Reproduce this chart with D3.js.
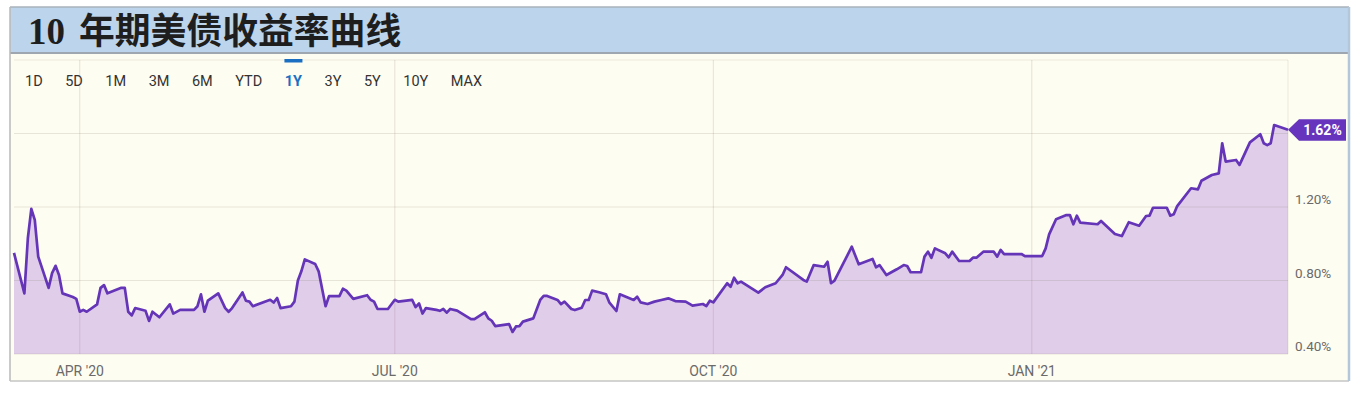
<!DOCTYPE html>
<html lang="zh">
<head>
<meta charset="UTF-8">
<title>10 年期美债收益率曲线</title>
<script src="https://cdnjs.cloudflare.com/ajax/libs/d3/7.8.5/d3.min.js"></script>
<style>
  body { margin: 0; background: #fff; }
  svg { display: block; font-family: Roboto, "Noto Sans", sans-serif; }
</style>
</head>
<body>
<div id="chart"></div>
<script>
// chart data
const titleNum = "10";
const titleText = "年期美债收益率曲线";
const ranges = ["1D", "5D", "1M", "3M", "6M", "YTD", "1Y", "3Y", "5Y", "10Y", "MAX"];
const activeRange = "1Y";
const yTicks = [0.4, 0.8, 1.2, 1.6];
const lastLabel = "1.62%";

const dates = [
  "2020-03-13","2020-03-16","2020-03-17","2020-03-18","2020-03-19","2020-03-20","2020-03-23","2020-03-24","2020-03-25","2020-03-26",
  "2020-03-27","2020-03-30","2020-03-31","2020-04-01","2020-04-02","2020-04-03","2020-04-06","2020-04-07","2020-04-08","2020-04-09",
  "2020-04-13","2020-04-14","2020-04-15","2020-04-16","2020-04-17","2020-04-20","2020-04-21","2020-04-22","2020-04-24","2020-04-27",
  "2020-04-28","2020-04-30","2020-05-04","2020-05-05","2020-05-06","2020-05-07","2020-05-08","2020-05-11","2020-05-13","2020-05-14",
  "2020-05-15","2020-05-18","2020-05-19","2020-05-20","2020-05-21","2020-05-26","2020-05-27","2020-05-28","2020-05-29","2020-06-01",
  "2020-06-02","2020-06-03","2020-06-04","2020-06-05","2020-06-08","2020-06-09","2020-06-11","2020-06-12","2020-06-15","2020-06-16",
  "2020-06-17","2020-06-19","2020-06-23","2020-06-24","2020-06-25","2020-06-26","2020-06-29","2020-07-01","2020-07-02","2020-07-06",
  "2020-07-07","2020-07-08","2020-07-09","2020-07-10","2020-07-13","2020-07-14","2020-07-15","2020-07-16","2020-07-17","2020-07-19",
  "2020-07-23","2020-07-24","2020-07-27","2020-07-28","2020-07-29","2020-07-30","2020-08-03","2020-08-04","2020-08-05","2020-08-06",
  "2020-08-07","2020-08-10","2020-08-12","2020-08-13","2020-08-14","2020-08-17","2020-08-18","2020-08-19","2020-08-21","2020-08-22",
  "2020-08-24","2020-08-25","2020-08-26","2020-08-27","2020-08-29","2020-08-31","2020-09-01","2020-09-03","2020-09-04","2020-09-08",
  "2020-09-09","2020-09-10","2020-09-12","2020-09-14","2020-09-16","2020-09-18","2020-09-20","2020-09-23","2020-09-25","2020-09-28",
  "2020-09-29","2020-09-30","2020-10-01","2020-10-05","2020-10-06","2020-10-07","2020-10-08","2020-10-09","2020-10-14","2020-10-16",
  "2020-10-19","2020-10-21","2020-10-22","2020-10-27","2020-10-28","2020-10-30","2020-11-02","2020-11-03","2020-11-04","2020-11-05",
  "2020-11-10","2020-11-12","2020-11-16","2020-11-17","2020-11-18","2020-11-20","2020-11-23","2020-11-25","2020-11-26","2020-11-27",
  "2020-11-30","2020-12-01","2020-12-02","2020-12-03","2020-12-04","2020-12-07","2020-12-08","2020-12-09","2020-12-11","2020-12-14",
  "2020-12-15","2020-12-16","2020-12-18","2020-12-21","2020-12-22","2020-12-23","2020-12-24","2020-12-29","2020-12-30","2021-01-04",
  "2021-01-05","2021-01-06","2021-01-08","2021-01-11","2021-01-12","2021-01-13","2021-01-14","2021-01-15","2021-01-20","2021-01-21",
  "2021-01-25","2021-01-27","2021-01-29","2021-02-01","2021-02-03","2021-02-04","2021-02-05","2021-02-09","2021-02-10","2021-02-11",
  "2021-02-12","2021-02-16","2021-02-18","2021-02-19","2021-02-22","2021-02-24","2021-02-25","2021-02-26","2021-03-01","2021-03-02",
  "2021-03-05","2021-03-08","2021-03-09","2021-03-10","2021-03-11","2021-03-12","2021-03-16"
];
const yields = [
  0.95, 0.73, 1.03, 1.19, 1.13, 0.93, 0.76, 0.84, 0.88, 0.83,
  0.73, 0.71, 0.70, 0.63, 0.64, 0.63, 0.67, 0.76, 0.775, 0.73,
  0.76, 0.76, 0.63, 0.61, 0.65, 0.635, 0.58, 0.63, 0.60, 0.67,
  0.62, 0.64, 0.64, 0.66, 0.725, 0.63, 0.69, 0.73, 0.65, 0.63,
  0.65, 0.735, 0.69, 0.685, 0.66, 0.695, 0.68, 0.705, 0.65, 0.66,
  0.685, 0.80, 0.85, 0.915, 0.89, 0.85, 0.66, 0.715, 0.715, 0.755,
  0.745, 0.70, 0.72, 0.695, 0.685, 0.645, 0.645, 0.695, 0.685, 0.695,
  0.655, 0.675, 0.62, 0.65, 0.64, 0.635, 0.645, 0.625, 0.645, 0.636,
  0.59, 0.59, 0.627, 0.594, 0.581, 0.552, 0.563, 0.52, 0.55, 0.552,
  0.576, 0.594, 0.694, 0.716, 0.716, 0.694, 0.672, 0.685, 0.645, 0.639,
  0.652, 0.694, 0.694, 0.745, 0.736, 0.725, 0.679, 0.634, 0.725, 0.694,
  0.712, 0.681, 0.672, 0.685, 0.694, 0.703, 0.688, 0.685, 0.663, 0.672,
  0.661, 0.69, 0.681, 0.785, 0.766, 0.815, 0.785, 0.794, 0.734, 0.763,
  0.785, 0.83, 0.872, 0.803, 0.794, 0.884, 0.875, 0.902, 0.785, 0.799,
  0.984, 0.888, 0.917, 0.872, 0.884, 0.83, 0.861, 0.884, 0.879, 0.845,
  0.845, 0.93, 0.957, 0.924, 0.975, 0.948, 0.926, 0.957, 0.906, 0.906,
  0.924, 0.924, 0.957, 0.957, 0.93, 0.966, 0.944, 0.944, 0.933, 0.933,
  0.975, 1.051, 1.133, 1.156, 1.156, 1.106, 1.153, 1.115, 1.106, 1.124,
  1.053, 1.042, 1.117, 1.098, 1.151, 1.153, 1.196, 1.196, 1.153, 1.16,
  1.205, 1.302, 1.296, 1.343, 1.374, 1.383, 1.547, 1.447, 1.456, 1.429,
  1.552, 1.596, 1.547, 1.537, 1.547, 1.646, 1.62
];

const width = 1360, height = 395;
const frame = { left: 10, right: 1349, top: 7, titleBottom: 53, bottom: 381 };
const plot = { left: 14, right: 1288, top: 60, bottom: 354 };

const parse = d3.timeParse("%Y-%m-%d");
const data = dates.map((d, i) => ({ date: parse(d), value: yields[i] }));

const svg = d3.select("#chart").append("svg")
  .attr("width", width)
  .attr("height", height);

// panel + title bar
svg.append("rect")
  .attr("x", frame.left).attr("y", frame.titleBottom)
  .attr("width", frame.right - frame.left).attr("height", frame.bottom - frame.titleBottom)
  .attr("fill", "#fefdf1");
svg.append("rect")
  .attr("x", frame.left).attr("y", frame.top)
  .attr("width", frame.right - frame.left).attr("height", frame.titleBottom - frame.top)
  .attr("fill", "#bdd5ec");
svg.append("line")
  .attr("x1", frame.left).attr("x2", frame.right)
  .attr("y1", frame.top).attr("y2", frame.top)
  .attr("stroke", "#a9b2bb").attr("stroke-width", 1.5);
svg.append("line")
  .attr("x1", frame.left).attr("x2", frame.right)
  .attr("y1", frame.titleBottom).attr("y2", frame.titleBottom)
  .attr("stroke", "#9ea7b0").attr("stroke-width", 2);
svg.append("line")
  .attr("x1", frame.left).attr("x2", frame.left)
  .attr("y1", frame.top).attr("y2", frame.bottom)
  .attr("stroke", "#b9b9b9").attr("stroke-width", 1.5);
svg.append("line")
  .attr("x1", frame.left).attr("x2", frame.right)
  .attr("y1", frame.bottom).attr("y2", frame.bottom)
  .attr("stroke", "#c4c4c4").attr("stroke-width", 1.5);
svg.append("line")
  .attr("x1", frame.right).attr("x2", frame.right)
  .attr("y1", frame.top).attr("y2", frame.bottom)
  .attr("stroke", "#b4c6da").attr("stroke-width", 2.5);

// title
svg.append("text")
  .attr("x", 28).attr("y", 44)
  .attr("font-family", "'Liberation Serif', 'DejaVu Serif', serif")
  .attr("font-weight", "bold")
  .attr("font-size", 37)
  .attr("fill", "#1e1e1e")
  .text(titleNum);
svg.append("text")
  .attr("x", 79).attr("y", 43.5)
  .attr("font-family", "'Noto Sans CJK SC', sans-serif")
  .attr("font-weight", "bold")
  .attr("font-size", 35.8)
  .attr("fill", "#1e1e1e")
  .text(titleText);

// scales
const x = d3.scaleTime()
  .domain([parse("2020-03-13"), parse("2021-03-16")])
  .range([plot.left, plot.right]);
const y = d3.scaleLinear()
  .domain([0.4, 2.0])
  .range([plot.bottom, plot.top]);

// area fill
const area = d3.area()
  .x(d => x(d.date))
  .y0(plot.bottom)
  .y1(d => y(d.value));
svg.append("path")
  .datum(data)
  .attr("d", area)
  .attr("fill", "#e0cdea");

// grid
const xTicks = x.ticks(d3.timeMonth.every(3));
const fmt = d3.timeFormat("%b '%y");
svg.append("g")
  .selectAll("line")
  .data(xTicks)
  .join("line")
  .attr("x1", d => x(d)).attr("x2", d => x(d))
  .attr("y1", plot.top).attr("y2", plot.bottom)
  .attr("stroke", "rgba(140,110,110,0.2)");
svg.append("g")
  .selectAll("line")
  .data(yTicks)
  .join("line")
  .attr("x1", plot.left).attr("x2", plot.right)
  .attr("y1", d => y(d)).attr("y2", d => y(d))
  .attr("stroke", "rgba(130,120,100,0.18)");
// plot frame top/right
svg.append("path")
  .attr("d", `M${plot.left},${plot.top}H${plot.right}V${plot.bottom}`)
  .attr("fill", "none")
  .attr("stroke", "rgba(130,120,100,0.15)");

// line
const line = d3.line()
  .x(d => x(d.date))
  .y(d => y(d.value));
svg.append("path")
  .datum(data)
  .attr("d", line)
  .attr("fill", "none")
  .attr("stroke", "#6535b8")
  .attr("stroke-width", 2.7)
  .attr("stroke-linejoin", "round");

// x labels
svg.append("g")
  .selectAll("text")
  .data(xTicks)
  .join("text")
  .attr("x", d => x(d))
  .attr("y", 376)
  .attr("text-anchor", "middle")
  .attr("font-size", 14)
  .attr("fill", "#6a6a6a")
  .text(d => fmt(d).toUpperCase());

// y labels (top one covered by the last-value badge)
svg.append("g")
  .selectAll("text")
  .data(yTicks.filter(d => d < 1.5))
  .join("text")
  .attr("x", plot.right + 7)
  .attr("y", d => y(d) - 3)
  .attr("font-size", 13.5)
  .attr("fill", "#6a6a6a")
  .text(d => d.toFixed(2) + "%");

// last value badge
const last = data[data.length - 1];
const by = y(last.value);
svg.append("path")
  .attr("d", `M${plot.right},${by}L${plot.right + 11},${by - 10.5}H${plot.right + 58}V${by + 11}H${plot.right + 11}Z`)
  .attr("fill", "#6634bd");
svg.append("text")
  .attr("x", plot.right + 34.5)
  .attr("y", by + 5)
  .attr("text-anchor", "middle")
  .attr("font-size", 14)
  .attr("font-weight", "bold")
  .attr("fill", "#fff")
  .text(lastLabel);

// range buttons
const btns = svg.append("g");
let bx = 25;
ranges.forEach(r => {
  const t = btns.append("text")
    .attr("x", bx)
    .attr("y", 86)
    .attr("font-size", 14.5)
    .attr("font-weight", r === activeRange ? "bold" : "normal")
    .attr("fill", r === activeRange ? "#1b6fc2" : "#333")
    .text(r);
  const w = t.node().getComputedTextLength();
  if (r === activeRange) {
    btns.append("rect")
      .attr("x", bx + w / 2 - 9).attr("y", 59)
      .attr("width", 18).attr("height", 3.5)
      .attr("fill", "#1b6fc2");
  }
  bx += w + 22.5;
});
</script>
</body>
</html>
